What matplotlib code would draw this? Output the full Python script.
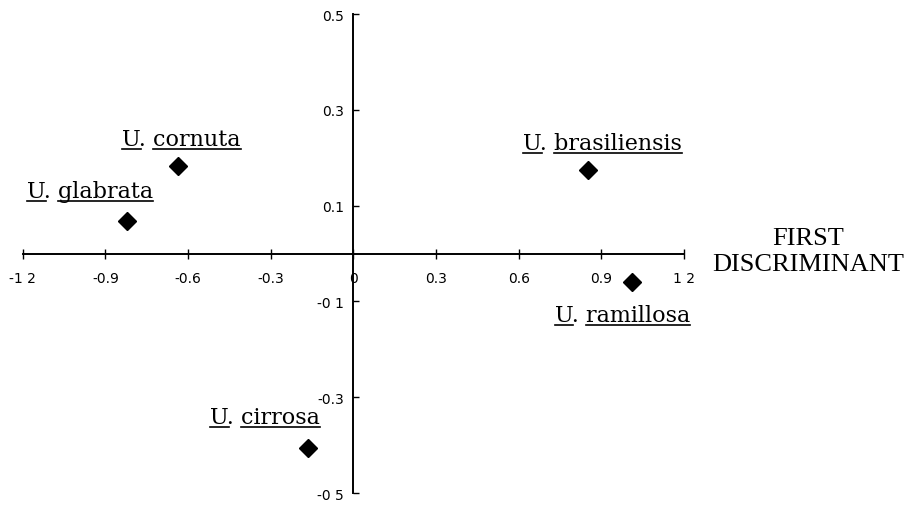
import matplotlib
matplotlib.use("Agg")
import matplotlib.pyplot as plt
from matplotlib.lines import Line2D
from matplotlib.transforms import IdentityTransform, offset_copy

# Discriminant scores of each Ulva species
species = ["cornuta", "glabrata", "brasiliensis", "ramillosa", "cirrosa"]
first_disc = [-0.635, -0.822, 0.853, 1.010, -0.163]
second_disc = [0.183, 0.068, 0.175, -0.060, -0.405]

x_ticks = [-1.2, -0.9, -0.6, -0.3, 0, 0.3, 0.6, 0.9, 1.2]
x_tick_labels = ["-1 2", "-0.9", "-0.6", "-0.3", "0", "0.3", "0.6", "0.9", "1 2"]
y_ticks = [-0.5, -0.3, -0.1, 0.1, 0.3, 0.5]
y_tick_labels = ["-0 5", "-0.3", "-0 1", "0.1", "0.3", "0.5"]

# label anchor offsets from the marker, in pixels: (left edge, baseline)
label_offsets = {
    "cornuta": (-56, 21),
    "glabrata": (-100, 24),
    "brasiliensis": (-65, 21),
    "ramillosa": (-77, -39),
    "cirrosa": (-98, 25),
}

DPI = 100
fig = plt.figure(figsize=(9.08, 5.06), dpi=DPI)
ax = fig.add_axes([0.025, 0.0237, 0.7283, 0.9466])

ax.set_xlim(-1.2, 1.2)
ax.set_ylim(-0.5, 0.5)

for side in ("top", "right"):
    ax.spines[side].set_visible(False)
for side in ("left", "bottom"):
    ax.spines[side].set_position(("data", 0))
    ax.spines[side].set_linewidth(1.4)
    ax.spines[side].set_color("black")

ax.set_xticks(x_ticks)
ax.set_xticklabels(x_tick_labels)
ax.set_yticks(y_ticks)
ax.set_yticklabels(y_tick_labels)
ax.tick_params(axis="x", direction="inout", length=7, width=1.0, pad=9,
               labelsize=10)
ax.tick_params(axis="y", direction="in", length=4.5, width=1.0, pad=7,
               labelsize=10)
for lab in ax.get_xticklabels() + ax.get_yticklabels():
    lab.set_fontfamily("DejaVu Sans")

ax.plot(first_disc, second_disc, linestyle="none", marker="D",
        markersize=8.8, color="black", clip_on=False)

label_font = dict(family="DejaVu Serif", size=16)
texts = []
for name, x, y in zip(species, first_disc, second_disc):
    dx, dy = label_offsets[name]
    tr = offset_copy(ax.transData, fig=fig, x=dx, y=dy, units="dots")
    t = ax.text(x, y, f"U. {name}", transform=tr, ha="left", va="baseline",
                clip_on=False, **label_font)
    texts.append((t, name))

fig.text(808 / 908, 1 - 252 / 506, "FIRST\nDISCRIMINANT",
         ha="center", va="center", family="Liberation Serif", size=19,
         linespacing=1.2)

# underline the genus initial and the species epithet separately
fig.canvas.draw()
renderer = fig.canvas.get_renderer()
for t, name in texts:
    x0, yb = t.get_transform().transform(t.get_position())
    fp = t.get_fontproperties()
    w_full = renderer.get_text_width_height_descent(f"U. {name}", fp, ismath=False)[0]
    w_u = renderer.get_text_width_height_descent("U", fp, ismath=False)[0]
    w_sp = renderer.get_text_width_height_descent(name, fp, ismath=False)[0]
    yl = yb - 4
    for xa, xb in ((x0, x0 + w_u), (x0 + w_full - w_sp, x0 + w_full)):
        fig.add_artist(Line2D([xa, xb], [yl, yl], transform=IdentityTransform(),
                              color="black", linewidth=1.2))

fig.savefig("out.png", dpi=DPI)
